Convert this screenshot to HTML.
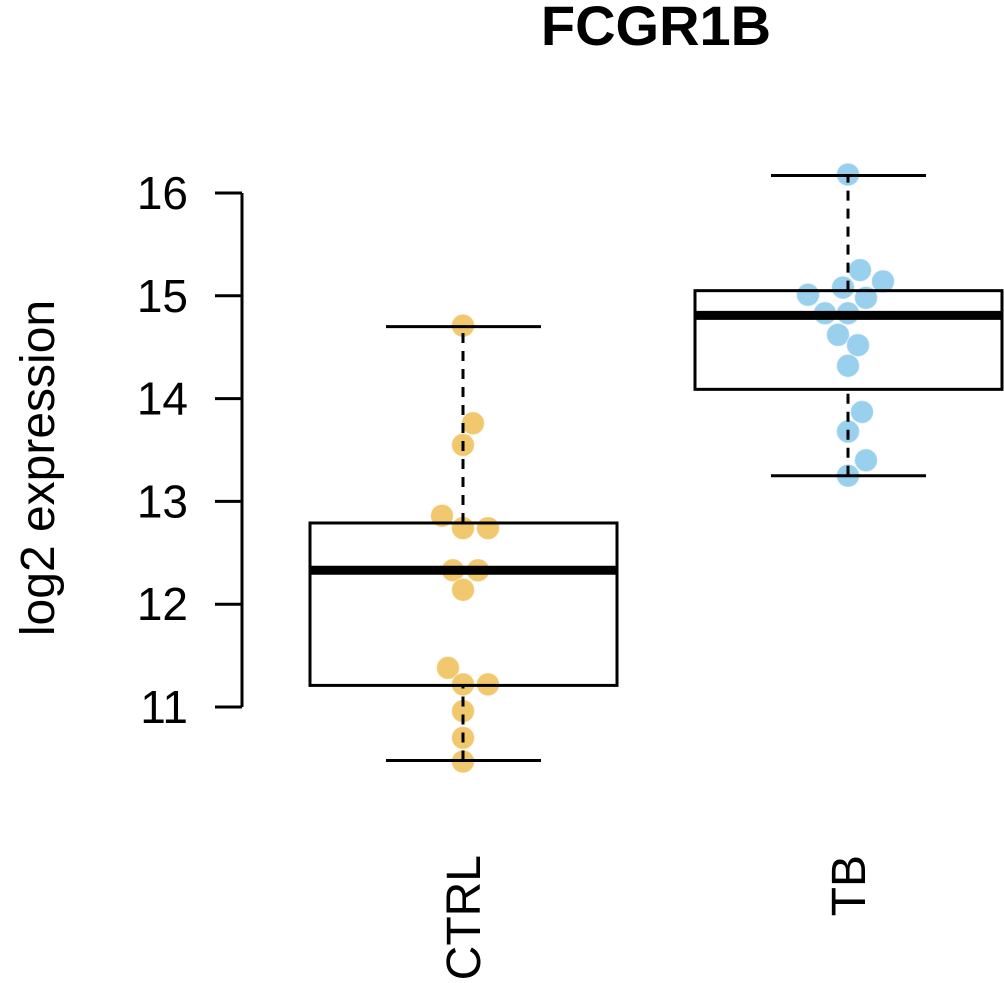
<!DOCTYPE html>
<html><head><meta charset="utf-8"><style>body{margin:0;background:#fff}svg{display:block}</style></head>
<body>
<svg id="chart" width="1004" height="983" xmlns="http://www.w3.org/2000/svg" font-family="Liberation Sans, sans-serif">
<text x="656" y="45" font-size="56" font-weight="bold" text-anchor="middle">FCGR1B</text>
<text transform="translate(54,468) rotate(-90)" font-size="48" text-anchor="middle">log2 expression</text>
<g id="g"></g>
</svg>
<script>
const categories=['CTRL','TB'];
const yTicks=[11,12,13,14,15,16];
const ctrlValues=[14.71,13.76,13.55,12.86,12.74,12.74,12.33,12.33,12.14,11.38,11.22,11.22,10.96,10.70,10.47];
const ctrlOffsets=[0,10,0,-21,0,25,-10,15,0,-15,0,25,0,0,0];
const tbValues=[16.18,15.25,15.14,15.01,15.08,14.98,14.83,14.83,14.62,14.52,14.32,13.87,13.68,13.40,13.25];
const tbOffsets=[0,12,35,-40,-5,18,-23,0,-10,10,0,14,0,18,0];
const boxStats=[[10.48,11.21,12.33,12.79,14.70],[13.25,14.09,14.81,15.05,16.17]];
const colors=['#F0C25E','#8ECBEC'];
const ns='http://www.w3.org/2000/svg';
const g=document.getElementById('g');
const y=v=>193+(16-v)*102.8;
const xc=i=>463+i*385;
function mk(t,a){const e=document.createElementNS(ns,t);for(const k in a)e.setAttribute(k,a[k]);g.appendChild(e);return e;}
let e=mk('line',{x1:242,x2:242,y1:y(16),y2:y(11),stroke:'#000','stroke-width':3});


yTicks.forEach(t=>{
 let l=mk('line',{x1:215,x2:242,y1:y(t),y2:y(t),stroke:'#000','stroke-width':3});
 
 
 let tx=mk('text',{x:188,y:y(t)+16,'font-size':46,'text-anchor':'end'});tx.textContent=t;
 
 
});
[[ctrlValues,ctrlOffsets],[tbValues,tbOffsets]].forEach(([vals,offs],i)=>{
 vals.forEach((v,j)=>{
  let c=mk('circle',{cx:xc(i)+offs[j],cy:y(v),r:11.5,fill:colors[i],stroke:'#fff','stroke-opacity':0.5,'stroke-width':1.2,'fill-opacity':0.9});
  
  
 });
});
boxStats.forEach((s,i)=>{
 const x=xc(i);
 let w1=mk('line',{x1:x,x2:x,y1:y(s[0]),y2:y(s[1]),stroke:'#000','stroke-width':3,'stroke-dasharray':'10,8'});
 
 
 let w2=mk('line',{x1:x,x2:x,y1:y(s[3]),y2:y(s[4]),stroke:'#000','stroke-width':3,'stroke-dasharray':'10,8'});
 
 
 [s[0],s[4]].forEach(v=>{
  let c=mk('line',{x1:x-77,x2:x+78,y1:y(v),y2:y(v),stroke:'#000','stroke-width':3});
  
  
 });
 let r=mk('rect',{x:x-153,y:y(s[3]),width:307,height:y(s[1])-y(s[3]),fill:'none',stroke:'#000','stroke-width':3});
 
 
 let m=mk('line',{x1:x-153,x2:x+154,y1:y(s[2]),y2:y(s[2]),stroke:'#000','stroke-width':9});
 
 
 let t=mk('text',{transform:`translate(${x+17},855) rotate(-90)`,'font-size':48,'text-anchor':'end'});t.textContent=categories[i];
 
 
});
</script>
</body></html>
